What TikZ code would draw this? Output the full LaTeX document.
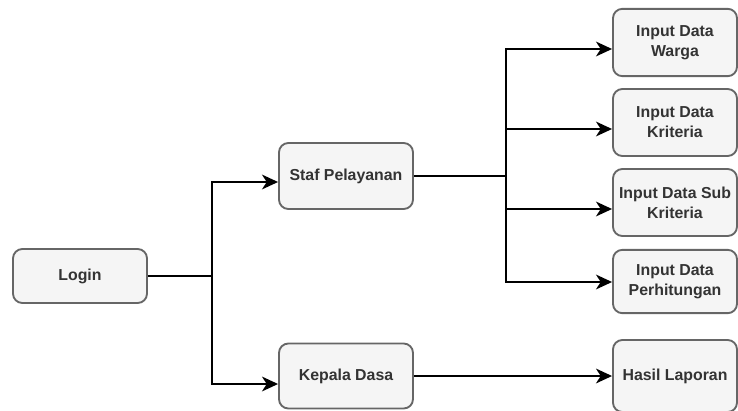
\documentclass[tikz,border=0pt]{standalone}
\usepackage{fontspec}
\setmainfont{Liberation Sans}
\usetikzlibrary{arrows.meta}
\definecolor{boxfill}{HTML}{F5F5F5}
\definecolor{boxline}{HTML}{666666}
\definecolor{boxtext}{HTML}{333333}
\tikzset{
  box/.style={draw=boxline, fill=boxfill, line width=1.4pt, rounded corners=7pt,
    text=boxtext, font=\fontsize{11.9pt}{15pt}\selectfont\bfseries, align=center,
    inner sep=0pt},
  lbox/.style={box, minimum width=100.5pt},
  rbox/.style={box, minimum width=93pt},
  arr/.style={draw=black, line width=1.8pt, -{Stealth[length=12pt,width=11pt,inset=3.5pt]}},
  ln/.style={draw=black, line width=1.8pt}
}
\begin{document}
\begin{tikzpicture}[x=0.75pt,y=-0.75pt]
\useasboundingbox (0,0) rectangle (738,410);
\clip (0,0) rectangle (738,410);
\node[lbox, minimum height=40.5pt] (login) at (80,276) {Login};
\node[lbox, minimum height=49.5pt] (staf) at (346,176) {Staf Pelayanan};
\node[lbox, minimum height=48.75pt] (kepala) at (346,376) {Kepala Dasa};
\node[rbox, minimum height=50.5pt] (warga) at (675,42.5) {Input Data\\Warga};
\node[rbox, minimum height=50.25pt] (kriteria) at (675,122.5) {Input Data\\Kriteria};
\node[rbox, minimum height=50.25pt] (sub) at (675,202.5) {Input Data Sub\\Kriteria};
\node[rbox, minimum height=47.5pt] (perh) at (675,281.5) {Input Data\\Perhitungan};
\node[rbox, minimum height=54pt] (hasil) at (675,376) {Hasil Laporan};
\coordinate (j1) at (212,276);
\coordinate (j2) at (506,176);
\draw[ln] (login.east) -- (j1);
\draw[arr] (j1) |- (staf.west |- 0,182);
\draw[arr] (j1) |- (kepala.west |- 0,384);
\draw[ln] (staf.east) -- (j2);
\draw[arr] (j2) |- (warga.west |- 0,49);
\draw[arr] (j2) |- (kriteria.west |- 0,129);
\draw[arr] (j2) |- (sub.west |- 0,209);
\draw[arr] (j2) |- (perh.west |- 0,282);
\draw[arr] (kepala.east) -- (hasil.west);
\end{tikzpicture}
\end{document}
